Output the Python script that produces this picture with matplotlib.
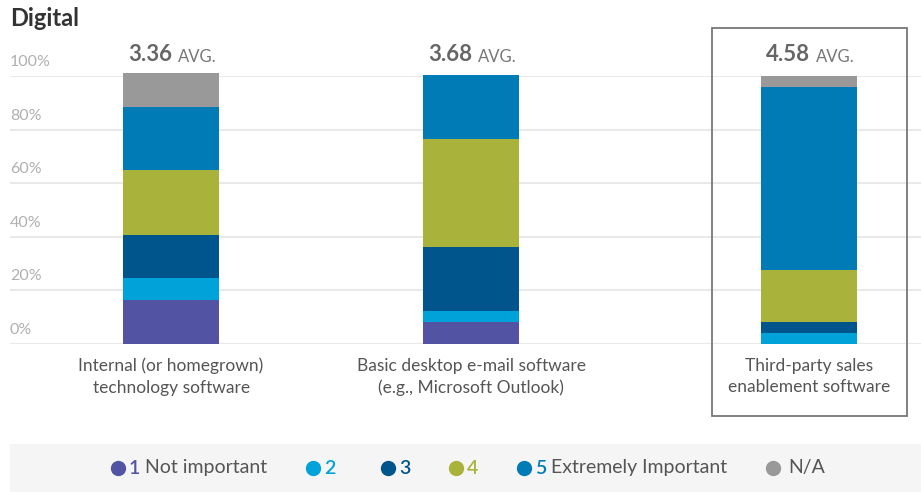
import matplotlib
matplotlib.use("Agg")
import matplotlib.pyplot as plt
from matplotlib.patches import Rectangle
from matplotlib.lines import Line2D
from matplotlib import transforms

plt.rcParams['font.family'] = ['Lato', 'DejaVu Sans']

# -----------------------------
# Data (percent of respondents)
# -----------------------------
categories = [
    "Internal (or homegrown)\ntechnology software",
    "Basic desktop e-mail software\n(e.g., Microsoft Outlook)",
    "Third-party sales\nenablement software",
]
averages = ["3.36", "3.68", "4.58"]

levels = ["1", "2", "3", "4", "5", ""]
level_names = ["Not important", "", "", "", "Extremely Important", "N/A"]

rating_1 = [16.5, 8.3, 0.0]
rating_2 = [8.0, 4.1, 4.2]
rating_3 = [16.0, 23.9, 4.1]
rating_4 = [24.3, 40.3, 19.4]
rating_5 = [23.8, 23.9, 68.3]
rating_na = [12.4, 0.0, 4.0]

colors = ["#5254a3", "#00a3d9", "#00558c", "#a9b23a", "#007bb6", "#999999"]

yticks = [0, 20, 40, 60, 80, 100]

# -----------------------------
# Layout
# -----------------------------
W, H = 921, 492
fig = plt.figure(figsize=(W / 100, H / 100), dpi=100)

def fx(px):
    return px / W

def fy(py):
    return 1 - py / H

ax = fig.add_axes([fx(10), fy(344), 1 - fx(10), fy(76) - fy(344)])
positions = [0, 1, 2.127]
ax.set_xlim(-0.537, 2.5)
ax.set_ylim(0, 100)
for s in ax.spines.values():
    s.set_visible(False)
ax.set_yticks([])

# gridlines + labels above them
trans = transforms.blended_transform_factory(ax.transAxes, ax.transData)
for v in yticks:
    ax.axhline(v, color="#e9e9e9", lw=1.5, zorder=0)
    ax.annotate(f"{v}%", xy=(0, v), xycoords=trans, xytext=(0, 5),
                textcoords="offset points", ha="left", va="bottom",
                fontsize=11.5, color="#b0b0b0")

series = [rating_1, rating_2, rating_3, rating_4, rating_5, rating_na]
bottom = [0, 0, 0]
for vals, c in zip(series, colors):
    ax.bar(positions, vals, width=0.32, bottom=bottom, color=c,
           zorder=2, clip_on=False)
    bottom = [b + v for b, v in zip(bottom, vals)]

# average labels
for p, avg in zip(positions, averages):
    ax.annotate(avg, xy=(p, 100), xytext=(1, 8), textcoords="offset points",
                ha="right", va="bottom", fontsize=16, fontweight="bold",
                color="#666666")
    ax.annotate("AVG.", xy=(p, 100), xytext=(5, 8), textcoords="offset points",
                ha="left", va="bottom", fontsize=12, color="#777777")

ax.set_xticks(positions)
ax.set_xticklabels(categories, fontsize=12.5, color="#555555",
                   linespacing=1.4)
ax.tick_params(axis="x", length=0, pad=10)

# title
fig.text(fx(10), fy(18), "Digital", fontsize=17, fontweight="bold",
         color="#333333", ha="left", va="center")

# highlight box around third category
fig.add_artist(Rectangle((fx(712), fy(416)), fx(907) - fx(712),
                         fy(28) - fy(416), transform=fig.transFigure,
                         fill=False, edgecolor="#777777", lw=1.3))

# legend band
fig.add_artist(Rectangle((fx(10), 0), 1 - fx(10), fy(444),
                         transform=fig.transFigure, facecolor="#f5f5f5",
                         edgecolor="none", zorder=0))
legend_x = [118, 313, 388, 456, 524, 773]
ly = fy(468)
for x, lev, name, c in zip(legend_x, levels, level_names, colors):
    fig.add_artist(Line2D([fx(x)], [ly], marker="o", markersize=10,
                          color=c, transform=fig.transFigure))
    t = fx(x + 11)
    if lev:
        txt = fig.text(t, ly, lev, fontsize=14, color=c, ha="left",
                       va="center", fontweight="semibold")
        fig.canvas.draw()
        bb = txt.get_window_extent()
        t = (bb.x1 + 5) / W
    if name:
        fig.text(t if lev else fx(x + 15), ly, name, fontsize=14,
                 color="#555555", ha="left", va="center")

fig.savefig("out.png", dpi=100)
